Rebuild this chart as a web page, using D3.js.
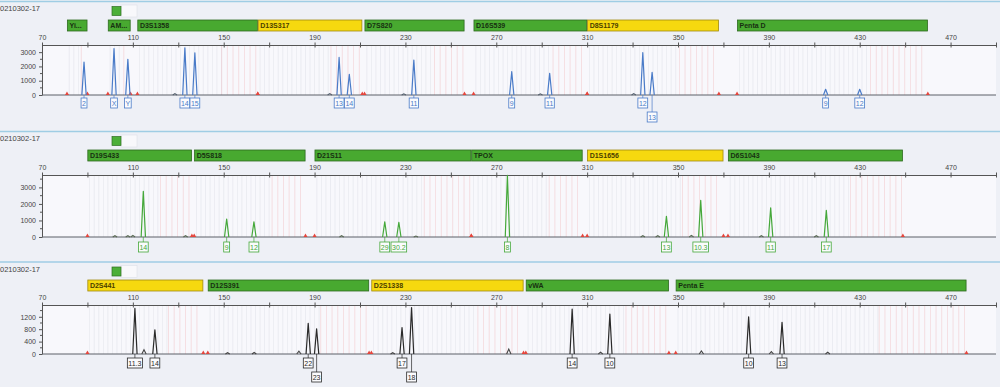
<!DOCTYPE html>
<html>
<head>
<meta charset="utf-8">
<script src="https://cdn.jsdelivr.net/npm/d3@7/dist/d3.min.js"></script>
<style>
  body { margin: 0; background: #eef0f6; }
  svg { display: block; font-family: "Liberation Sans", Arial, sans-serif; }
</style>
</head>
<body>
<svg id="chart" width="1000" height="387"></svg>
<script>
const sampleName = '0210302-17';

// size axis (bp)
const xTicks = [70, 110, 150, 190, 230, 270, 310, 350, 390, 430, 470];
const xMinorTicks = [90, 130, 170, 210, 250, 290, 330, 370, 410, 450, 490];

// yellow bars in the marker strip
const flaggedMarkers = ['D13S317', 'D8S1179', 'D1S1656', 'D2S441', 'D2S1338'];

// blue dye
const blueMarkers = ['Yi...', 'AM...', 'D3S1358', 'D13S317', 'D7S820', 'D16S539', 'D8S1179', 'Penta D'];
const blueMarkerStart = [81, 99, 112, 165, 212, 260, 310, 376];
const blueMarkerEnd = [90, 109, 165, 211, 256, 310, 368, 460];
const blueAlleles = ['2', 'X', 'Y', '14', '15', '13', '14', '11', '9', '11', '12', '13', '9', '12'];
const blueSizes = [88.5, 101.7, 107.8, 132.9, 137.3, 200.8, 205.3, 233.7, 276.8, 293.5, 334.5, 338.6, 415.0, 430.0];
const blueHeights = [2300, 3250, 2500, 3300, 2950, 2630, 1450, 2450, 1630, 1520, 2960, 1590, 400, 400];
const blueMinorSizes = [128.5, 196.7, 229.3, 289.4, 330.5];
const blueMinorHeights = [100, 100, 80, 80, 100];
const blueYTicks = [0, 1000, 2000, 3000];

// green dye
const greenMarkers = ['D19S433', 'D5S818', 'D21S11', 'TPOX', 'D1S1656', 'D6S1043'];
const greenMarkerStart = [90, 137, 190, 259, 310, 372];
const greenMarkerEnd = [136, 186, 259, 308, 370, 449];
const greenAlleles = ['14', '9', '12', '29', '30.2', '8', '13', '10.3', '11', '17'];
const greenSizes = [114.6, 151.3, 163.3, 220.9, 227.1, 274.9, 344.9, 360.0, 390.8, 415.3];
const greenHeights = [2760, 1090, 910, 910, 890, 3730, 1250, 2220, 1760, 1610];
const greenMinorSizes = [102.1, 107.8, 110.0, 133.2, 201.9, 234.6, 334.5, 341.1, 355.9, 386.7, 410.9];
const greenMinorHeights = [80, 80, 100, 80, 80, 60, 80, 80, 100, 80, 80];
const greenYTicks = [0, 1000, 2000, 3000];

// yellow dye (drawn black)
const blackMarkers = ['D2S441', 'D12S391', 'D2S1338', 'vWA', 'Penta E'];
const blackMarkerStart = [90, 143, 215, 283, 349];
const blackMarkerEnd = [141, 214, 282, 346, 477];
const blackAlleles = ['11.3', '14', '22', '23', '17', '18', '14', '10', '10', '13'];
const blackSizes = [110.9, 119.7, 187.2, 190.9, 228.5, 232.7, 303.4, 320.0, 381.1, 395.8];
const blackHeights = [1470, 780, 990, 810, 850, 1500, 1450, 1290, 1200, 1020];
const blackMinorSizes = [114.9, 151.7, 163.4, 183.1, 224.4, 275.5, 315.9, 360.3, 391.1, 415.9];
const blackMinorHeights = [140, 40, 50, 90, 40, 160, 60, 100, 80, 60];
const blackYTicks = [0, 400, 800, 1200];

const width = 1000;
const svg = d3.select('#chart');
const x = d3.scaleLinear().domain([70, 490]).range([42, 996]);

const panels = [
  { top: 1.5, axisY: 45, baseY: 95, yMax: 3500, yTicks: blueYTicks, color: '#4a7bc8', minorColor: '#55606e', labelGap: 3,
    markers: blueMarkers, start: blueMarkerStart, end: blueMarkerEnd,
    alleles: blueAlleles, sizes: blueSizes, heights: blueHeights,
    minorSizes: blueMinorSizes, minorHeights: blueMinorHeights },
  { top: 131.5, axisY: 175, baseY: 237, yMax: 3750, yTicks: greenYTicks, color: '#45a83a', minorColor: '#5a6a55', labelGap: 5,
    markers: greenMarkers, start: greenMarkerStart, end: greenMarkerEnd,
    alleles: greenAlleles, sizes: greenSizes, heights: greenHeights,
    minorSizes: greenMinorSizes, minorHeights: greenMinorHeights },
  { top: 262, axisY: 305, baseY: 354, yMax: 1580, yTicks: blackYTicks, color: '#2a2a2a', minorColor: '#444', labelGap: 4,
    markers: blackMarkers, start: blackMarkerStart, end: blackMarkerEnd,
    alleles: blackAlleles, sizes: blackSizes, heights: blackHeights,
    minorSizes: blackMinorSizes, minorHeights: blackMinorHeights }
];

panels.forEach(drawPanel);

function drawPanel(p) {
  const g = svg.append('g');
  const y = d3.scaleLinear().domain([0, p.yMax]).range([p.baseY, p.axisY]);

  // header strip
  g.append('line')
    .attr('x1', 0).attr('x2', width)
    .attr('y1', p.top).attr('y2', p.top)
    .attr('stroke', '#9fcde4').attr('stroke-width', 1.4);
  g.append('text')
    .attr('x', 0).attr('y', p.top + 9.5)
    .attr('font-size', 7.5).attr('fill', '#444')
    .text(sampleName);
  g.append('rect')
    .attr('x', 121).attr('y', p.top + 3.5)
    .attr('width', 16).attr('height', 12)
    .attr('fill', '#f8f8fb').attr('stroke', '#dcdfe8').attr('stroke-width', 0.6);
  g.append('rect')
    .attr('x', 112).attr('y', p.top + 5)
    .attr('width', 9).attr('height', 9)
    .attr('fill', '#4caf38').attr('stroke', '#2e6e22').attr('stroke-width', 0.7);

  // plot area
  g.append('rect')
    .attr('x', x(70)).attr('y', p.axisY)
    .attr('width', x(490) - x(70)).attr('height', p.baseY - p.axisY)
    .attr('fill', '#f8f8fc');

  // bin lines inside every marker range
  p.markers.forEach((m, i) => {
    const s = p.start[i], e = p.end[i];
    const cut = e - (e - s) * 0.3;
    const grey = d3.range(s + 1, e, 2).filter(b => b < cut);
    const pink = d3.range(cut, e - 0.5, 2.5);
    g.selectAll(null).data(grey).enter().append('line')
      .attr('x1', d => x(d)).attr('x2', d => x(d))
      .attr('y1', p.axisY).attr('y2', p.baseY)
      .attr('stroke', '#c9ccd6').attr('stroke-width', 0.6).attr('opacity', 0.45);
    g.selectAll(null).data(pink).enter().append('line')
      .attr('x1', d => x(d)).attr('x2', d => x(d))
      .attr('y1', p.axisY).attr('y2', p.baseY)
      .attr('stroke', '#f0b4b8').attr('stroke-width', 0.7).attr('opacity', 0.55);
  });

  // marker strip
  const barY = p.axisY - 25;
  const bars = g.selectAll(null)
    .data(p.markers.map((m, i) => ({ name: m, s: p.start[i], e: p.end[i] })))
    .enter().append('g');
  bars.append('rect')
    .attr('x', d => x(d.s) + 0.4).attr('y', barY)
    .attr('width', d => x(d.e) - x(d.s) - 0.8).attr('height', 11)
    .attr('fill', d => flaggedMarkers.includes(d.name) ? '#f6d90f' : '#48a930')
    .attr('stroke', d => flaggedMarkers.includes(d.name) ? '#a08a10' : '#2d6a1f')
    .attr('stroke-width', 0.8);
  bars.append('text')
    .attr('x', d => x(d.s) + 2.5).attr('y', barY + 8.2)
    .attr('font-size', 7).attr('font-weight', 'bold')
    .attr('fill', d => flaggedMarkers.includes(d.name) ? '#4a3e00' : '#173010')
    .text(d => d.name);

  // top size axis
  const xAxis = g.append('g')
    .attr('transform', `translate(0,${p.axisY})`)
    .call(d3.axisTop(x)
      .tickValues(xTicks.concat(xMinorTicks))
      .tickFormat(d => xTicks.includes(d) ? d : '')
      .tickSizeOuter(0));
  xAxis.select('.domain').attr('stroke', '#555').attr('stroke-width', 1);
  xAxis.selectAll('.tick line').attr('y1', 2.5).attr('y2', -2.5).attr('stroke', '#555');
  xAxis.selectAll('.tick text').attr('y', -5).attr('font-size', 7).attr('fill', '#444')
    .attr('font-family', '"Liberation Sans", Arial, sans-serif');

  // left intensity axis
  const step = p.yTicks[1] - p.yTicks[0];
  const yAxis = g.append('g')
    .attr('transform', `translate(${x(70)},0)`)
    .call(d3.axisLeft(y).tickValues(p.yTicks).tickFormat(d3.format('d')).tickSize(3).tickSizeOuter(0));
  yAxis.select('.domain').attr('stroke', '#555');
  yAxis.selectAll('.tick line').attr('stroke', '#555');
  yAxis.selectAll('.tick text').attr('font-size', 7).attr('fill', '#444')
    .attr('font-family', '"Liberation Sans", Arial, sans-serif');
  yAxis.selectAll(null)
    .data(d3.range(step / 2, p.yMax, step))
    .enter().append('line')
    .attr('x1', -2).attr('x2', 0)
    .attr('y1', d => y(d)).attr('y2', d => y(d))
    .attr('stroke', '#555');

  // baseline
  g.append('line')
    .attr('x1', x(70)).attr('x2', x(490))
    .attr('y1', y(0)).attr('y2', y(0))
    .attr('stroke', '#5c6068').attr('stroke-width', 1);

  // marker boundary triangles
  const bounds = p.start.concat(p.end);
  g.selectAll(null).data(bounds).enter().append('path')
    .attr('d', d => `M${x(d) - 2},${y(0)} L${x(d)},${y(0) - 3.4} L${x(d) + 2},${y(0)} Z`)
    .attr('fill', '#e5453c');

  // peaks
  const peakLine = d3.line().x(d => x(d[0])).y(d => y(d[1]));
  const shape = (s, h) => [[s - 0.95, 0], [s, h], [s + 0.95, 0]];
  g.selectAll(null)
    .data(p.minorSizes.map((s, i) => shape(s, p.minorHeights[i])))
    .enter().append('path')
    .attr('d', peakLine)
    .attr('fill', 'none').attr('stroke', p.minorColor).attr('stroke-width', 1.1);
  g.selectAll(null)
    .data(p.sizes.map((s, i) => shape(s, p.heights[i])))
    .enter().append('path')
    .attr('d', peakLine)
    .attr('fill', 'none').attr('stroke', p.color).attr('stroke-width', 1.2)
    .attr('stroke-linejoin', 'round');

  // allele call boxes, pushed to a second row when they would overlap
  let lastRight = -Infinity;
  p.alleles.forEach((a, i) => {
    const cx = x(p.sizes[i]);
    const label = g.append('g');
    const text = label.append('text')
      .attr('x', cx).attr('text-anchor', 'middle')
      .attr('font-size', 7).attr('fill', p.color)
      .text(a);
    const w = text.node().getComputedTextLength() + 2;
    let row = 0;
    if (cx - w / 2 < lastRight - 0.1) row = 1; else lastRight = cx + w / 2;
    const top = p.baseY + p.labelGap + row * 14;
    text.attr('y', top + 7.6);
    label.insert('rect', 'text')
      .attr('x', cx - w / 2).attr('y', top)
      .attr('width', w).attr('height', 10)
      .attr('fill', '#fbfbfd').attr('stroke', p.color).attr('stroke-width', 0.8);
    label.append('line')
      .attr('x1', cx).attr('x2', cx)
      .attr('y1', p.baseY).attr('y2', top)
      .attr('stroke', p.color).attr('stroke-width', 0.7);
  });
}
</script>
</body>
</html>
